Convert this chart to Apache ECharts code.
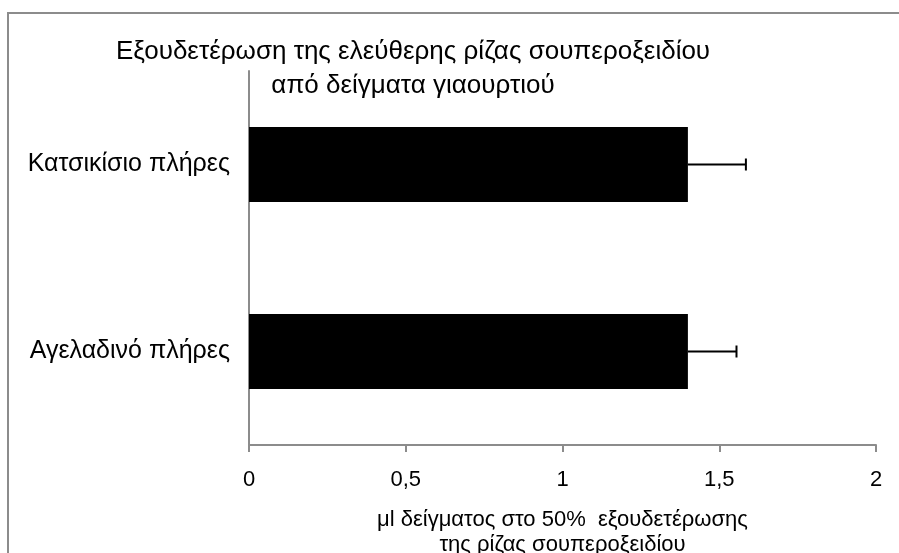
<!DOCTYPE html>
<html>
<head>
<meta charset="utf-8">
<script src="https://cdn.jsdelivr.net/npm/echarts@6/dist/echarts.min.js"></script>
<style>
  html, body { margin: 0; padding: 0; background: #fff; overflow: hidden; }
  #chart { width: 899px; height: 553px; }
</style>
</head>
<body>
<div id="chart"></div>
<script>
// Yogurt samples, bottom-to-top order on the category axis
const categories = ['Αγελαδινό πλήρες', 'Κατσικίσιο πλήρες'];
// μl of sample at 50% neutralisation of the superoxide radical
const values = [1.40, 1.40];
// positive error bar lengths
const errors = [0.155, 0.185];
// x-axis tick values
const xTicks = [0, 0.5, 1, 1.5, 2];

const FONT = '"Liberation Sans", Arial, sans-serif';

const chart = echarts.init(document.getElementById('chart'), null, { renderer: 'canvas', width: 899, height: 553 });

const errorData = values.map((v, i) => [i, v, v + errors[i]]);

chart.setOption({
  animation: false,
  backgroundColor: '#fff',
  textStyle: { fontFamily: FONT },
  grid: {
    left: 249, width: 627, top: 71, height: 374,
    containLabel: false,
    outerBoundsMode: 'none'
  },
  graphic: [
    {
      type: 'rect',
      shape: { x: 8, y: 13, width: 1000, height: 1000 },
      style: { fill: 'none', stroke: '#8c8c8c', lineWidth: 2 },
      silent: true
    },
    {
      type: 'text',
      x: 413, y: 35,
      style: {
        text: 'Εξουδετέρωση της ελεύθερης ρίζας σουπεροξειδίου\nαπό δείγματα γιαουρτιού',
        font: '26px ' + FONT,
        fill: '#000',
        align: 'center',
        verticalAlign: 'top',
        lineHeight: 34
      }
    }
  ],
  xAxis: {
    type: 'value',
    min: xTicks[0],
    max: xTicks[xTicks.length - 1],
    interval: 0.5,
    splitLine: { show: false },
    axisLine: { show: true, lineStyle: { color: '#8c8c8c', width: 2 } },
    axisTick: { show: true, length: 7, lineStyle: { color: '#8c8c8c', width: 2 } },
    axisLabel: {
      color: '#000', fontSize: 22, fontFamily: FONT, margin: 24,
      formatter: v => String(v).replace('.', ',')
    },
    name: 'μl δείγματος στο 50%  εξουδετέρωσης\nτης ρίζας σουπεροξειδίου',
    nameLocation: 'middle',
    nameGap: 62,
    nameTextStyle: { color: '#000', fontSize: 22, fontFamily: FONT, lineHeight: 25, verticalAlign: 'top' }
  },
  yAxis: {
    type: 'category',
    data: categories,
    axisLine: { show: true, lineStyle: { color: '#8c8c8c', width: 2 } },
    axisTick: { show: false },
    splitLine: { show: false },
    axisLabel: { color: '#000', fontSize: 25, fontFamily: FONT, margin: 19 }
  },
  series: [
    {
      type: 'bar',
      data: values,
      barWidth: '40%',
      itemStyle: { color: '#000' },
      silent: true
    },
    {
      type: 'custom',
      data: errorData,
      silent: true,
      z: 5,
      renderItem: (params, api) => {
        const i = api.value(0);
        const start = api.coord([api.value(1), i]);
        const end = api.coord([api.value(2), i]);
        const cap = 6;
        const style = { stroke: '#000', lineWidth: 2 };
        return {
          type: 'group',
          children: [
            { type: 'line', shape: { x1: start[0], y1: start[1], x2: end[0], y2: end[1] }, style },
            { type: 'line', shape: { x1: end[0], y1: end[1] - cap, x2: end[0], y2: end[1] + cap }, style }
          ]
        };
      }
    }
  ]
});
</script>
</body>
</html>
